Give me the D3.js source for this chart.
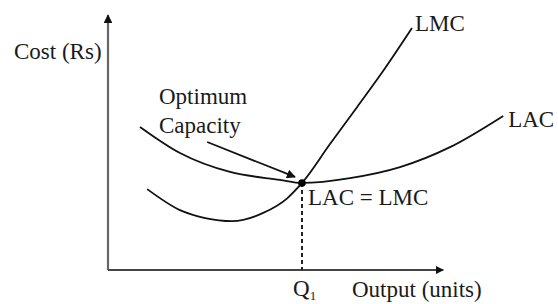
<!DOCTYPE html>
<html>
<head>
<meta charset="utf-8">
<script src="https://cdn.jsdelivr.net/npm/d3@7"></script>
<style>
  body { margin: 0; background: #fff; }
  text { font-family: "Liberation Serif", "Times New Roman", serif; fill: #1a1a1a; }
</style>
</head>
<body>
<div class="chart"></div>
<script>
// curve points (output, cost)
var lacOutput = [0.8, 1.8, 3.05, 4.3, 4.85, 6.05, 7.3, 8.55, 9.88];
var lacCost   = [5.59, 4.57, 3.83, 3.52, 3.40, 3.59, 4.02, 4.80, 6.02];
var lmcOutput = [0.98, 1.8, 2.43, 3.1, 3.88, 4.48, 4.85, 5.55, 6.23, 6.93, 7.6];
var lmcCost   = [3.16, 2.34, 2.03, 1.91, 2.23, 2.8, 3.40, 4.92, 6.37, 7.89, 9.45];
var optimum = { output: 4.85, cost: 3.40 };
var arrowFrom = { output: 2.48, cost: 5.0 };
var axisEnd = { output: 8.38, cost: 9.96 };

var width = 558, height = 304;

var xScale = d3.scaleLinear().domain([0, 10]).range([108, 508]);
var yScale = d3.scaleLinear().domain([0, 10]).range([270, 14]);

var svg = d3.select(".chart").append("svg")
    .attr("width", width)
    .attr("height", height);

var defs = svg.append("defs");
defs.append("marker")
    .attr("id", "head")
    .attr("viewBox", "0 0 10 10")
    .attr("refX", 9).attr("refY", 5)
    .attr("markerWidth", 5).attr("markerHeight", 5)
    .attr("markerUnits", "strokeWidth")
    .attr("orient", "auto")
  .append("path")
    .attr("d", "M0,0 L10,5 L0,10 z")
    .attr("fill", "#111");
defs.append("marker")
    .attr("id", "axhead")
    .attr("viewBox", "0 0 10 10")
    .attr("refX", 9).attr("refY", 5)
    .attr("markerWidth", 4.5).attr("markerHeight", 4)
    .attr("markerUnits", "strokeWidth")
    .attr("orient", "auto")
  .append("path")
    .attr("d", "M0,0 L10,5 L0,10 z")
    .attr("fill", "#111");

// axes
svg.append("line")
    .attr("x1", xScale(0)).attr("y1", yScale(0))
    .attr("x2", xScale(0)).attr("y2", yScale(axisEnd.cost))
    .attr("stroke", "#666").attr("stroke-width", 2.2)
    .attr("marker-end", "url(#axhead)");
svg.append("line")
    .attr("x1", xScale(0)).attr("y1", yScale(0))
    .attr("x2", xScale(axisEnd.output)).attr("y2", yScale(0))
    .attr("stroke", "#444").attr("stroke-width", 2)
    .attr("marker-end", "url(#axhead)");

var line = d3.line()
    .x(function(d) { return xScale(d[0]); })
    .y(function(d) { return yScale(d[1]); })
    .curve(d3.curveMonotoneX);

svg.append("path")
    .datum(d3.zip(lacOutput, lacCost))
    .attr("d", line)
    .attr("fill", "none").attr("stroke", "#111").attr("stroke-width", 1.8);

svg.append("path")
    .datum(d3.zip(lmcOutput, lmcCost))
    .attr("d", line)
    .attr("fill", "none").attr("stroke", "#111").attr("stroke-width", 1.8);

// dashed drop line to Q1
svg.append("line")
    .attr("x1", xScale(optimum.output)).attr("y1", yScale(optimum.cost))
    .attr("x2", xScale(optimum.output)).attr("y2", yScale(0))
    .attr("stroke", "#222").attr("stroke-width", 2)
    .attr("stroke-dasharray", "4,3");

svg.append("circle")
    .attr("cx", xScale(optimum.output)).attr("cy", yScale(optimum.cost))
    .attr("r", 3.8).attr("fill", "#000");

// optimum capacity arrow
svg.append("line")
    .attr("x1", xScale(arrowFrom.output)).attr("y1", yScale(arrowFrom.cost))
    .attr("x2", xScale(optimum.output) - 7).attr("y2", yScale(optimum.cost) - 6)
    .attr("stroke", "#111").attr("stroke-width", 1.8)
    .attr("marker-end", "url(#head)");

// labels
function label(txt, x, y) {
  return svg.append("text").attr("x", x).attr("y", y)
      .style("font-size", "23px").text(txt);
}
label("Cost (Rs)", 14, 59);
label("Optimum", 159, 104);
label("Capacity", 159, 133);
label("LAC = LMC", 308, 205);
label("LMC", xScale(lmcOutput[lmcOutput.length - 1]) + 3, yScale(lmcCost[lmcCost.length - 1]) + 3);
label("LAC", xScale(lacOutput[lacOutput.length - 1]) + 5, yScale(lacCost[lacCost.length - 1]) + 11);
label("Output (units)", 352, 297);

var q = svg.append("text")
    .attr("x", xScale(optimum.output) - 9).attr("y", 296)
    .style("font-size", "23px");
q.append("tspan").text("Q");
q.append("tspan").attr("dy", 4).style("font-size", "13px").text("1");
</script>
</body>
</html>
